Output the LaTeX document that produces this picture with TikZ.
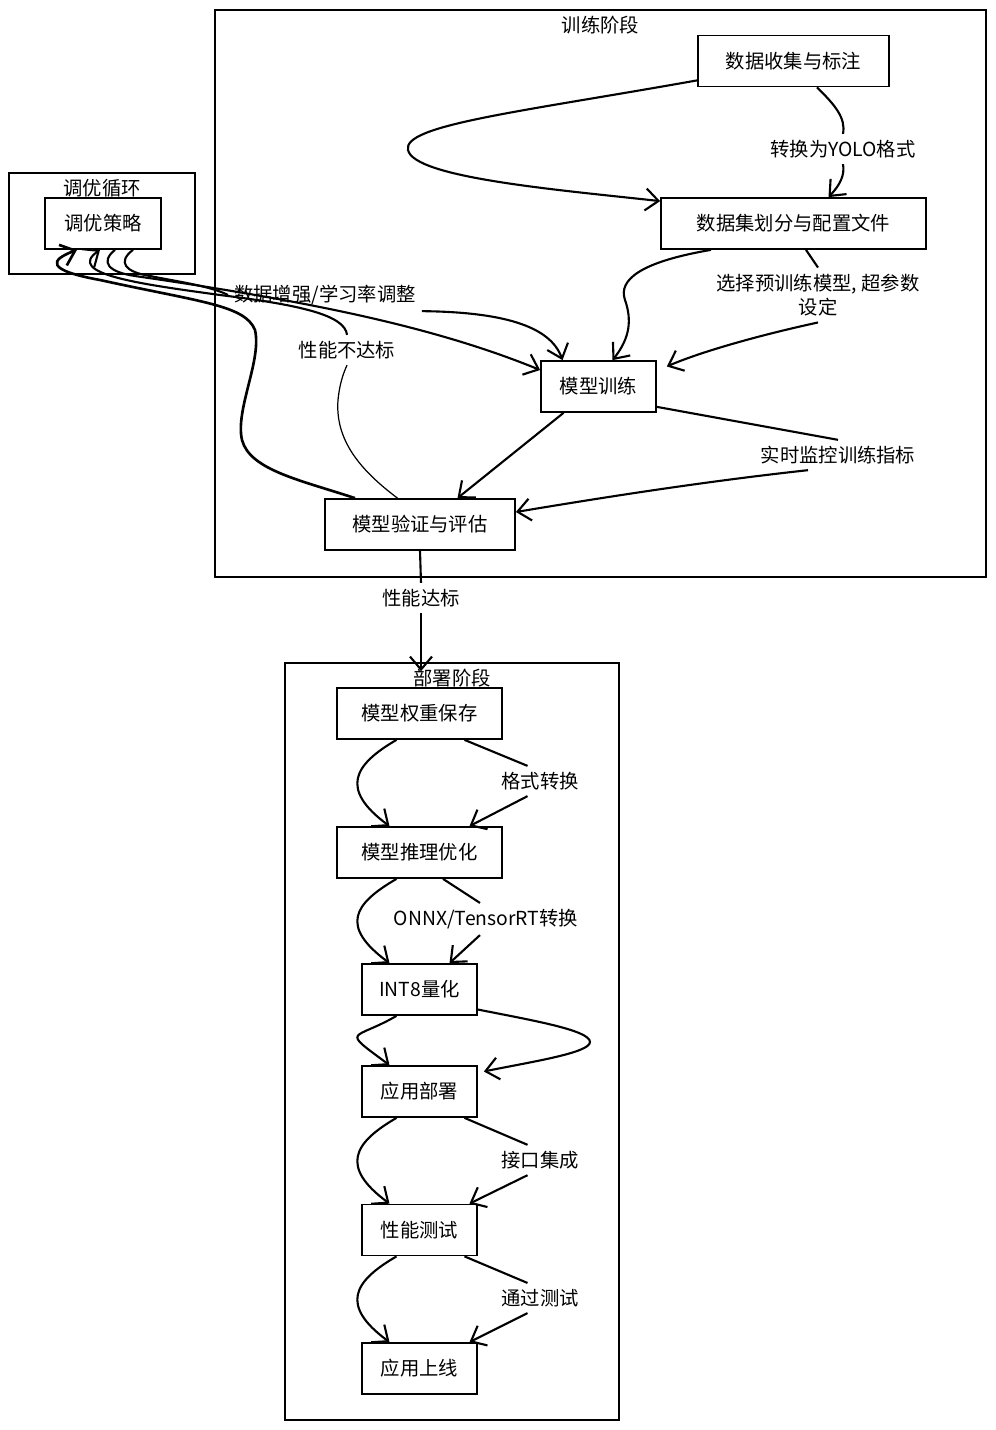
\documentclass[tikz,border=0pt]{standalone}
\usepackage{fontspec}
\setmainfont{Noto Sans CJK SC}
\usetikzlibrary{arrows.meta}

\begin{document}
\begin{tikzpicture}[x=0.02cm, y=-0.02cm,
    every node/.style={font=\fontsize{11}{14}\selectfont},
    box/.style={draw, line width=1pt, fill=white, minimum height=1.02cm, inner sep=0pt},
    stage/.style={draw, line width=1pt, inner sep=0pt},
    link/.style={line width=1.2pt},
    flow/.style={link, -{Straight Barb[length=2.6mm, width=4.4mm]}}]
    \useasboundingbox (0,0) rectangle (996,1430);
    % stages
    \node[stage, minimum width=15.42cm, minimum height=11.34cm] (trainstage) at (600.5,293.5) {};
    \node[stage, minimum width=3.72cm, minimum height=2.02cm] (tunestage) at (102,223.5) {};
    \node[stage, minimum width=6.68cm, minimum height=15.14cm] (deploystage) at (452,1041.5) {};
    \node (trainlbl) at ([yshift=-0.32cm]trainstage.north) {训练阶段};
    \node (tunelbl) at ([yshift=-0.32cm]tunestage.north) {调优循环};
    \node (deploylbl) at ([yshift=-0.32cm]deploystage.north) {部署阶段};
    % steps
    \node[box, minimum width=3.82cm] (collect) at (793.5,61) {数据收集与标注};
    \node[box, minimum width=5.3cm] (split) at (793.5,223.5) {数据集划分与配置文件};
    \node[box, minimum width=2.3cm] (train) at (598.5,386.5) {模型训练};
    \node[box, minimum width=3.8cm] (eval) at (420,524.5) {模型验证与评估};
    \node[box, minimum width=2.32cm] (tune) at (103,223.5) {调优策略};
    \node[box, minimum width=3.3cm] (save) at (419.5,713.5) {模型权重保存};
    \node[box, minimum width=3.3cm] (infer) at (419.5,852.5) {模型推理优化};
    \foreach \n/\y/\t in {quant/989.5/INT8量化, deploy/1091.5/应用部署, test/1230/性能测试, online/1368.5/应用上线}
      \node[box, minimum width=2.3cm] (\n) at (419.5,\y) {\t};
    % edge labels
    \node (conv) at (843,149) {转换为YOLO格式};
    \node[align=center] (select) at (818,295) {选择预训练模型, 超参数\\设定};
    \node (augment) at (325,295) {数据增强/学习率调整};
    \node (notmet) at (347,350) {性能不达标};
    \node (monitor) at (838,455) {实时监控训练指标};
    \node (pass) at (421,598) {性能达标};
    \node (fmt) at (540,781) {格式转换};
    \node (onnx) at (486,919) {ONNX/TensorRT转换};
    \node (api) at (540,1160) {接口集成};
    \node (passtest) at (540,1298) {通过测试};
    % training flow
    \draw[flow] ([yshift=0.14cm]collect.south west) .. controls (520,112) and (402,125) .. (408,150)
      .. controls (414,178) and (560,190) .. ([yshift=-0.08cm]split.north west);
    \draw[link] ([xshift=0.47cm]collect.south) .. controls (835,105) and (846,118) .. (conv.north);
    \draw[flow] (conv.south) .. controls (845,175) and (840,185) .. ([xshift=0.7cm]split.north);
    \draw[flow] ([xshift=-1.65cm]split.south) .. controls (640,262) and (618,280) .. (625,300)
      .. controls (632,320) and (630,338) .. ([xshift=0.28cm]train.north);
    \draw[link] ([xshift=0.25cm]split.south) -- (select.north);
    \draw[flow] (select.south) .. controls (760,335) and (700,352) .. ([xshift=0.2cm,yshift=0.4cm]train.east);
    \draw[flow] ([xshift=-0.7cm]train.south) -- ([xshift=0.75cm]eval.north);
    \draw[link] ([yshift=0.12cm]train.south east) -- (monitor.north);
    \draw[flow] ([xshift=-0.6cm]monitor.south) .. controls (700,482) and (600,498) .. ([yshift=0.25cm]eval.east);
    % tuning loop
    \draw[flow] ([xshift=0.24cm]tune.south) .. controls (100,262) and (108,272) .. (135,276)
      .. controls (300,300) and (430,325) .. ([yshift=0.33cm]train.west);
    \draw[link] ([xshift=0.6cm]tune.south) .. controls (117,262) and (125,272) .. (150,276)
      .. controls (180,282) and (210,286) .. (augment.west);
    \draw[flow] (augment.south east) .. controls (500,312) and (550,325) .. ([xshift=-0.72cm]train.north);
    \draw[flow, line width=1.5pt] ([xshift=-1.3cm]eval.north) .. controls (300,480) and (250,470) .. (242,440)
      .. controls (235,410) and (262,360) .. (255,330)
      .. controls (245,305) and (200,302) .. (100,280)
      .. controls (45,270) and (50,260) .. ([xshift=-0.52cm]tune.south);
    \draw[line width=0.7pt] ([xshift=-0.45cm]eval.north) .. controls (360,470) and (335,440) .. (338,400)
      .. controls (340,380) and (345,370) .. (notmet.south);
    \draw[flow] (notmet.north) .. controls (345,315) and (300,305) .. (220,295)
      .. controls (140,284) and (65,274) .. ([xshift=-0.06cm]tune.south);
    % to deployment
    \draw[link] (eval.south) -- (pass.north);
    \draw[flow] (pass.south) -- ([yshift=-0.18cm]pass.south |- deploystage.north);
    % deployment flow
    \foreach \a/\b in {save/infer, infer/quant, quant/deploy, deploy/test, test/online}
      \draw[flow] ([xshift=-0.46cm]\a.south) .. controls +(-43,25) and +(-50,-37) .. ([xshift=-0.6cm]\b.north);
    \draw[link] ([xshift=0.9cm]save.south) -- ([xshift=-0.25cm]fmt.north);
    \draw[flow] ([xshift=-0.25cm]fmt.south) -- ([xshift=1cm]infer.north);
    \draw[link] ([xshift=0.47cm]infer.south) -- ([xshift=-0.12cm]onnx.north);
    \draw[flow] ([xshift=-0.12cm]onnx.south) -- ([xshift=0.6cm]quant.north);
    \draw[flow] ([yshift=-0.4cm]quant.east) .. controls (530,1020) and (590,1030) .. (590,1042)
      .. controls (590,1053) and (530,1062) .. ([xshift=0.12cm,yshift=0.4cm]deploy.east);
    \draw[link] ([xshift=0.9cm]deploy.south) -- ([xshift=-0.25cm]api.north);
    \draw[flow] ([xshift=-0.25cm]api.south) -- ([xshift=1cm]test.north);
    \draw[link] ([xshift=0.9cm]test.south) -- ([xshift=-0.25cm]passtest.north);
    \draw[flow] ([xshift=-0.25cm]passtest.south) -- ([xshift=1cm]online.north);
  \end{tikzpicture}
\end{document}
